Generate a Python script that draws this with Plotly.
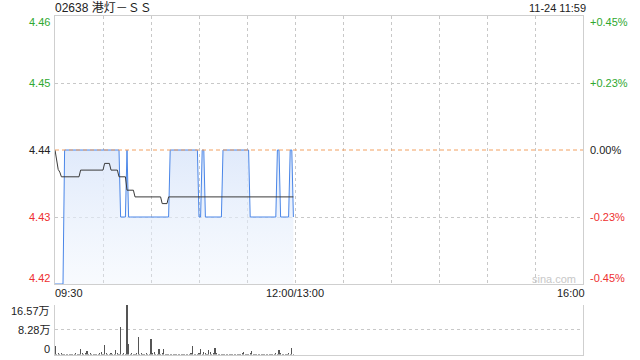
import plotly.graph_objects as go

# ---------------- data ----------------
title_text = "02638 港灯－ＳＳ"
stamp_text = "11-24 11:59"
prev_close = 4.44

# minute index from 09:30 (0..329, lunch break removed); data to 11:59
minutes = list(range(150))

price = [
    4.42, 4.42, 4.42, 4.42, 4.42, 4.42, 4.44, 4.44, 4.44, 4.44,
    4.44, 4.44, 4.44, 4.44, 4.44, 4.44, 4.44, 4.44, 4.44, 4.44,
    4.44, 4.44, 4.44, 4.44, 4.44, 4.44, 4.44, 4.44, 4.44, 4.44,
    4.44, 4.44, 4.44, 4.44, 4.44, 4.44, 4.44, 4.44, 4.44, 4.44,
    4.44, 4.43, 4.43, 4.43, 4.43, 4.44, 4.43, 4.43, 4.43, 4.43,
    4.43, 4.43, 4.43, 4.43, 4.43, 4.43, 4.43, 4.43, 4.43, 4.43,
    4.43, 4.43, 4.43, 4.43, 4.43, 4.43, 4.43, 4.43, 4.43, 4.43,
    4.43, 4.43, 4.44, 4.44, 4.44, 4.44, 4.44, 4.44, 4.44, 4.44,
    4.44, 4.44, 4.44, 4.44, 4.44, 4.44, 4.44, 4.44, 4.44, 4.44,
    4.43, 4.43, 4.44, 4.44, 4.43, 4.43, 4.43, 4.43, 4.43, 4.43,
    4.43, 4.43, 4.43, 4.43, 4.43, 4.44, 4.44, 4.44, 4.44, 4.44,
    4.44, 4.44, 4.44, 4.44, 4.44, 4.44, 4.44, 4.44, 4.44, 4.44,
    4.44, 4.44, 4.43, 4.43, 4.43, 4.43, 4.43, 4.43, 4.43, 4.43,
    4.43, 4.43, 4.43, 4.43, 4.43, 4.43, 4.43, 4.43, 4.43, 4.44,
    4.44, 4.43, 4.43, 4.43, 4.43, 4.43, 4.43, 4.44, 4.44, 4.43,
]

avg_price = [
    4.4400, 4.4388, 4.4371, 4.4367, 4.4360, 4.4360, 4.4360, 4.4360, 4.4360, 4.4360,
    4.4360, 4.4360, 4.4360, 4.4360, 4.4360, 4.4360, 4.4370, 4.4370, 4.4370, 4.4370,
    4.4370, 4.4370, 4.4370, 4.4370, 4.4370, 4.4370, 4.4370, 4.4370, 4.4370, 4.4370,
    4.4370, 4.4380, 4.4380, 4.4380, 4.4380, 4.4370, 4.4370, 4.4370, 4.4370, 4.4370,
    4.4360, 4.4360, 4.4360, 4.4360, 4.4360, 4.4340, 4.4340, 4.4340, 4.4340, 4.4340,
    4.4330, 4.4330, 4.4330, 4.4330, 4.4330, 4.4330, 4.4330, 4.4330, 4.4330, 4.4330,
    4.4330, 4.4330, 4.4330, 4.4330, 4.4330, 4.4330, 4.4330, 4.4320, 4.4320, 4.4320,
    4.4320, 4.4330, 4.4330, 4.4330, 4.4330, 4.4330, 4.4330, 4.4330, 4.4330, 4.4330,
    4.4330, 4.4330, 4.4330, 4.4330, 4.4330, 4.4330, 4.4330, 4.4330, 4.4330, 4.4330,
    4.4330, 4.4330, 4.4330, 4.4330, 4.4330, 4.4330, 4.4330, 4.4330, 4.4330, 4.4330,
    4.4330, 4.4330, 4.4330, 4.4330, 4.4330, 4.4330, 4.4330, 4.4330, 4.4330, 4.4330,
    4.4330, 4.4330, 4.4330, 4.4330, 4.4330, 4.4330, 4.4330, 4.4330, 4.4330, 4.4330,
    4.4330, 4.4330, 4.4330, 4.4330, 4.4330, 4.4330, 4.4330, 4.4330, 4.4330, 4.4330,
    4.4330, 4.4330, 4.4330, 4.4330, 4.4330, 4.4330, 4.4330, 4.4330, 4.4330, 4.4330,
    4.4330, 4.4330, 4.4330, 4.4330, 4.4330, 4.4330, 4.4330, 4.4330, 4.4330, 4.4330,
]

# volume in 万 shares
volume = [
    2.8, 0.3, 0.5, 0.3, 0.4, 0.3, 0.2, 0.3, 0.2, 0.3,
    0.2, 0.1, 0.3, 0.4, 0.2, 0.3, 1.8, 0.4, 0.3, 0.5,
    1.1, 0.3, 0.4, 0.2, 0.3, 0.2, 0.1, 0.3, 0.5, 0.9,
    0.3, 3.1, 0.4, 0.3, 0.2, 0.4, 0.3, 0.2, 1.45, 0.5,
    0.2, 9.3, 0.3, 0.4, 0.2, 16.57, 3.5, 0.3, 0.6, 0.3,
    0.2, 0.4, 5.9, 0.3, 0.4, 0.2, 0.3, 0.4, 0.2, 0.3,
    5.1, 0.4, 0.9, 0.3, 0.2, 1.8, 0.3, 0.4, 1.8, 0.3,
    0.2, 0.3, 0.2, 0.3, 0.2, 0.2, 0.3, 0.2, 0.1, 0.3,
    0.2, 0.3, 0.2, 0.2, 0.3, 0.4, 2.9, 0.3, 0.2, 0.3,
    0.4, 1.8, 0.3, 0.7, 0.4, 0.3, 1.45, 0.9, 0.3, 0.4,
    2.2, 0.4, 0.3, 0.2, 0.3, 0.2, 0.3, 0.2, 0.3, 0.2,
    0.2, 0.3, 0.2, 0.3, 0.2, 0.3, 0.2, 0.4, 0.7, 0.3,
    0.2, 0.3, 0.4, 1.1, 0.3, 0.2, 0.3, 0.2, 0.3, 0.2,
    0.3, 0.2, 0.2, 0.3, 0.2, 0.3, 0.2, 0.3, 0.4, 0.3,
    1.45, 0.4, 0.3, 0.2, 0.3, 0.2, 0.4, 0.3, 2.2, 0.3,
]

price_ticks = [4.46, 4.45, 4.44, 4.43, 4.42]
price_tick_text = ["4.46", "4.45", "4.44", "4.43", "4.42"]
pct_tick_text = ["+0.45%", "+0.23%", "0.00%", "-0.23%", "-0.45%"]
vol_ticks = [16.57, 8.28, 0]
vol_tick_text = ["16.57万", "8.28万", "0"]
time_ticks = [0, 150, 330]
time_tick_text = ["09:30", "12:00/13:00", "16:00"]
grid_minutes = [30, 60, 90, 120, 150, 180, 210, 240, 270, 300]

# ---------------- style ----------------
FONT = "Arial, 'Liberation Sans', 'Noto Sans CJK SC', sans-serif"
GREEN = "#2fa82f"
RED = "#ee3030"
BLACK = "#222222"
BORDER = "#cfcfcf"
GRID = "#c8c8c8"
BLUE = "#4a86e8"

def tick_color(v):
    if v > prev_close + 1e-9:
        return GREEN
    if v < prev_close - 1e-9:
        return RED
    return BLACK

fig = go.Figure()

fig.add_trace(go.Scatter(
    x=minutes, y=price, mode="lines",
    line=dict(color=BLUE, width=1),
    fill="tozeroy",
    fillgradient=dict(type="vertical", start=4.42, stop=4.44,
                      colorscale=[[0, "rgba(232,240,252,0.3)"], [1, "rgba(224,234,251,1)"]]),
    hoverinfo="skip", xaxis="x", yaxis="y", showlegend=False,
))
fig.add_trace(go.Scatter(
    x=minutes, y=avg_price, mode="lines",
    line=dict(color="#3a3a3a", width=1),
    hoverinfo="skip", xaxis="x", yaxis="y", showlegend=False,
))
fig.add_trace(go.Bar(
    x=minutes, y=volume, width=0.65,
    marker=dict(color="#555555", line=dict(width=0)),
    hoverinfo="skip", xaxis="x2", yaxis="y2", showlegend=False,
))

main_dom = [1 - 284 / 360, 1 - 16 / 360]
vol_dom = [1 - 354.5 / 360, 1 - 305 / 360]

fig.update_layout(
    width=640, height=360,
    margin=dict(l=55, r=57, t=0, b=0),
    paper_bgcolor="white", plot_bgcolor="white",
    font=dict(family=FONT, size=11, color=BLACK),
    bargap=0,
    xaxis=dict(domain=[0, 1], range=[0, 330], anchor="y",
               tickvals=grid_minutes, showticklabels=False, ticks="",
               showgrid=True, gridcolor=GRID, griddash="dot", gridwidth=1,
               showline=True, linecolor=BORDER, linewidth=1, mirror=True,
               zeroline=False, fixedrange=True),
    yaxis=dict(domain=main_dom, range=[4.42, 4.46], anchor="x",
               tickvals=[4.45, 4.43], showticklabels=False, ticks="",
               showgrid=True, gridcolor=GRID, griddash="dot", gridwidth=1,
               showline=True, linecolor=BORDER, linewidth=1, mirror=True,
               zeroline=False, fixedrange=True),
    xaxis2=dict(domain=[0, 1], range=[0, 330], anchor="y2",
                showticklabels=False, ticks="", showgrid=False,
                showline=True, linecolor=BORDER, linewidth=1, mirror=False,
                zeroline=False, fixedrange=True),
    yaxis2=dict(domain=vol_dom, range=[0, 16.6], anchor="x2",
                tickvals=[8.28, 16.57], showticklabels=False, ticks="",
                showgrid=True, gridcolor=GRID, griddash="dot", gridwidth=1,
                showline=True, linecolor=BORDER, linewidth=1, mirror=True,
                zeroline=False, fixedrange=True),
)

# previous close reference line
fig.add_shape(type="line", xref="x domain", x0=0, x1=1, yref="y", y0=prev_close, y1=prev_close,
              line=dict(color="#f2a060", width=1, dash="4px,3px"), layer="above")

ann = []
edge_shift = {0: -6, len(price_ticks) - 1: 6}
for i, (v, t, p) in enumerate(zip(price_ticks, price_tick_text, pct_tick_text)):
    c = tick_color(v)
    ys = edge_shift.get(i, 0)
    ann.append(dict(xref="paper", x=0, xanchor="right", xshift=-3,
                    yref="y", y=v, yanchor="middle", yshift=ys,
                    text=t, showarrow=False, font=dict(color=c, size=11)))
    ann.append(dict(xref="paper", x=1, xanchor="left", xshift=5,
                    yref="y", y=v, yanchor="middle", yshift=ys,
                    text=p, showarrow=False, font=dict(color=c, size=11)))

vol_shift = {0: -6, len(vol_ticks) - 1: 6}
for i, (v, t) in enumerate(zip(vol_ticks, vol_tick_text)):
    ann.append(dict(xref="paper", x=0, xanchor="right", xshift=-3,
                    yref="y2", y=v, yanchor="middle", yshift=vol_shift.get(i, 0),
                    text=t, showarrow=False, font=dict(color=BLACK, size=11)))

anchors = ["left", "center", "right"]
xshifts = [-2, 0, 4]
for v, t, a, s in zip(time_ticks, time_tick_text, anchors, xshifts):
    ann.append(dict(xref="x", x=v, xanchor=a, xshift=s, yref="paper", y=1 - 293 / 360,
                    yanchor="middle", text=t, showarrow=False,
                    font=dict(color=BLACK, size=11)))

ann.append(dict(xref="paper", x=0, xanchor="left", xshift=-2, yref="paper", y=1 - 8 / 360,
                yanchor="middle", text=title_text, showarrow=False,
                font=dict(color=BLACK, size=12)))
ann.append(dict(xref="paper", x=1, xanchor="right", xshift=5, yref="paper", y=1 - 8 / 360,
                yanchor="middle", text=stamp_text, showarrow=False,
                font=dict(color=BLACK, size=11)))
ann.append(dict(xref="paper", x=1, xanchor="right", xshift=-5, yref="paper", y=1 - 279 / 360,
                yanchor="middle", text="sina.com", showarrow=False,
                font=dict(color="#c8c8c8", size=11)))

fig.update_layout(annotations=ann)

fig.write_html("out.html", config={"displayModeBar": False, "staticPlot": True})
